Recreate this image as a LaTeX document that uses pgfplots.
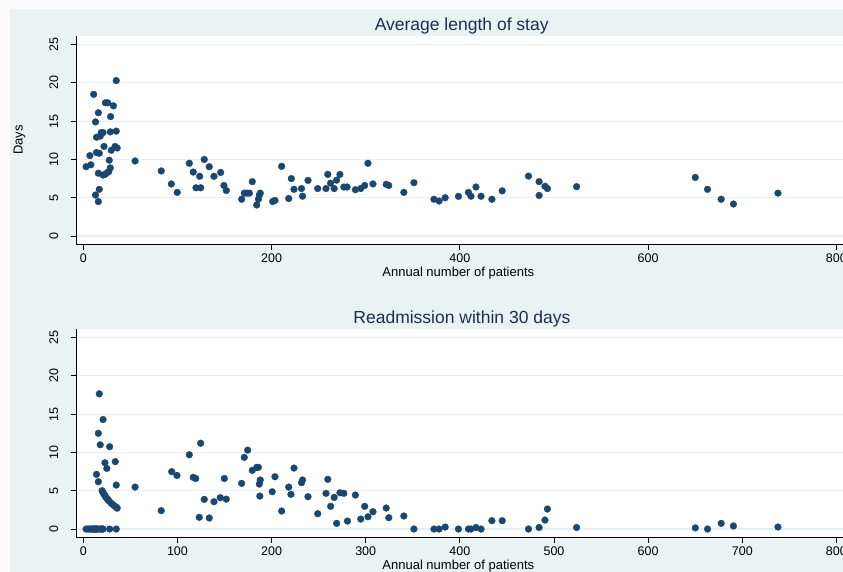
\documentclass[border=0pt]{standalone}
\usepackage{pgfplots}
\pgfplotsset{compat=1.18}
\usepackage{fontspec}
\setmainfont{Liberation Sans}
\definecolor{stblue}{RGB}{26,71,111}
\definecolor{bgblue}{RGB}{234,242,243}
\definecolor{gridc}{RGB}{230,238,240}
\definecolor{titlec}{RGB}{30,45,80}
\definecolor{outerc}{RGB}{252,250,250}

\pgfplotstableread{
x y
3 9.05
8 9.3
7 10.5
11 18.5
13 14.9
14 12.9
14 10.9
16 16.1
16 8.2
13 5.35
17 6.1
16 4.5
17 10.8
18 13.05
19 13.5
21 13.5
22 11.7
21 7.96
23 8.05
23.5 17.4
26 17.4
25.6 8.3
27.6 9.9
27 8.4
28.7 8.9
29 15.6
28.7 13.6
29.7 11.2
32 17.0
33.7 11.7
35 13.7
35 20.3
36 11.5
55 9.8
82.8 8.5
93.5 6.8
99.8 5.7
112.6 9.5
116.8 8.35
119.7 6.3
123.6 7.8
124.7 6.3
128.5 10.0
133.8 9.05
138.8 7.8
145.9 8.3
149.4 6.6
151.9 5.95
168.2 4.8
171 5.6
173.7 5.6
176.5 5.6
179.5 7.1
184.2 4.05
186 4.8
187 5.35
188 5.6
201.1 4.5
203.6 4.65
210.7 9.1
218.2 4.9
221 7.5
223.8 6.1
231.8 6.2
232.9 5.2
238.7 7.27
249 6.2
257.8 6.2
259.7 8.05
262.7 6.9
266.5 6.2
269.1 7.3
272.6 8.05
276.8 6.4
280.2 6.4
289 6.05
294.7 6.2
298.9 6.6
302.4 9.5
307.7 6.8
321.8 6.75
324.5 6.6
340.5 5.7
351.2 6.96
372.5 4.8
377.9 4.57
384.4 5.0
398.5 5.18
409.1 5.7
411.8 5.2
417.1 6.4
422.5 5.2
434 4.8
445 5.9
472.9 7.83
484.2 7.1
484.2 5.3
490.4 6.5
493 6.2
524 6.45
650.1 7.65
663.1 6.1
677.6 4.8
690.6 4.18
737.9 5.6
}\staydata

\pgfplotstableread{
x y
3 0
5 0
7 0
9 0
10 0
11 0
12 0
13 0
14 0
15 0
17 0
19 0
20 0
21 0
28 0
35 0
17 17.66
21 14.3
16 12.5
18 11.0
28 10.75
23 8.65
25 7.92
34 8.8
14 7.14
16 6.18
35 5.74
20 5.0
21 4.76
22 4.55
23 4.35
24 4.17
25 4.0
26 3.85
27 3.70
29 3.45
31 3.23
33 3.03
35 2.86
36 2.72
55 5.48
82.8 2.4
93.9 7.5
99.5 7.0
112.6 9.7
116.8 6.75
119.4 6.6
123.2 1.53
124.7 11.2
128.5 3.87
133.8 1.44
138.8 3.57
145.5 4.09
149.8 6.6
151.9 3.9
168.2 5.96
171 9.36
174.6 10.3
179.5 7.66
184.2 8.05
186 8.05
187 5.87
188 6.4
187.5 4.3
200.7 4.87
203.6 6.83
210.7 2.35
218.2 5.48
220.6 4.53
223.8 7.96
231.8 6.05
232.9 6.4
238.7 4.22
249 2.0
257.8 4.66
259.7 6.49
262.7 2.96
266.5 4.13
269.1 0.74
272.6 4.74
276.8 4.66
280.6 1.04
289 4.44
294.7 1.3
298.9 2.96
302.4 1.6
307.7 2.26
321.8 2.74
324.5 1.48
340.5 1.7
351.2 0
372.5 0
377.9 0
384.4 0.26
398.5 0
409.1 0
411.8 0
417.1 0.2
422.5 0
434 1.09
445 1.09
472.9 0
484.2 0.2
490.4 1.17
493 2.61
524 0.2
650.1 0.15
663.1 0
677.6 0.74
690.6 0.4
737.9 0.26
}\readmdata

\pgfplotsset{
  panel/.style={
    scale only axis, width=767pt, height=208.5pt,
    xmin=-7.75, xmax=807, ymin=-1.08, ymax=26.15,
    axis lines*=left,
    axis background/.style={fill=white},
    ytick={0,5,10,15,20,25},
    ymajorgrids, grid style={gridc, line width=1.2pt},
    tick align=outside, major tick length=5.5pt,
    tick style={black, line width=0.8pt},
    axis line style={black, line width=0.8pt},
    yticklabel style={rotate=90, anchor=south, inner sep=0pt, font=\fontsize{12.5}{12.5}\selectfont},
    xticklabel style={anchor=north, inner sep=0pt, font=\fontsize{12.5}{12.5}\selectfont},
    yticklabel shift=12pt,
    xticklabel shift=4pt,
    /pgf/number format/assume math mode=true,
    scaled ticks=false,
  },
  dots/.style={only marks, mark=*, mark size=3.4pt, color=stblue, mark options={solid, fill=stblue, draw=stblue, line width=0.3pt}},
}

\begin{document}
\begin{tikzpicture}[x=1pt,y=1pt]
\path[use as bounding box] (0,0) rectangle (843,572);
\clip (0,0) rectangle (843,572);
\fill[outerc] (0,0) rectangle (843,572);
\fill[bgblue] (10,0) rectangle (843,563);

\begin{axis}[panel, at={(76pt,327.7pt)}, anchor=south west, xtick={0,200,400,600,800}]
\addplot[dots] table[x=x,y=y] {\staydata};
\end{axis}

\begin{axis}[panel, at={(76pt,34.7pt)}, anchor=south west, xtick={0,100,200,300,400,500,600,700,800}]
\addplot[dots] table[x=x,y=y] {\readmdata};
\end{axis}

\node[titlec, anchor=base, font=\fontsize{17.5}{17.5}\selectfont] at (461.7,541.3) {Average length of stay};
\node[titlec, anchor=base, font=\fontsize{17.5}{17.5}\selectfont] at (461.9,248) {Readmission within 30 days};
\node[black, anchor=base, font=\fontsize{13}{13}\selectfont] at (458.3,295.3) {Annual number of patients};
\node[black, anchor=base, font=\fontsize{13}{13}\selectfont] at (458.3,2.7) {Annual number of patients};
\node[black, anchor=base, rotate=90, font=\fontsize{13}{13}\selectfont] at (22.7,432) {Days};
\end{tikzpicture}
\end{document}
